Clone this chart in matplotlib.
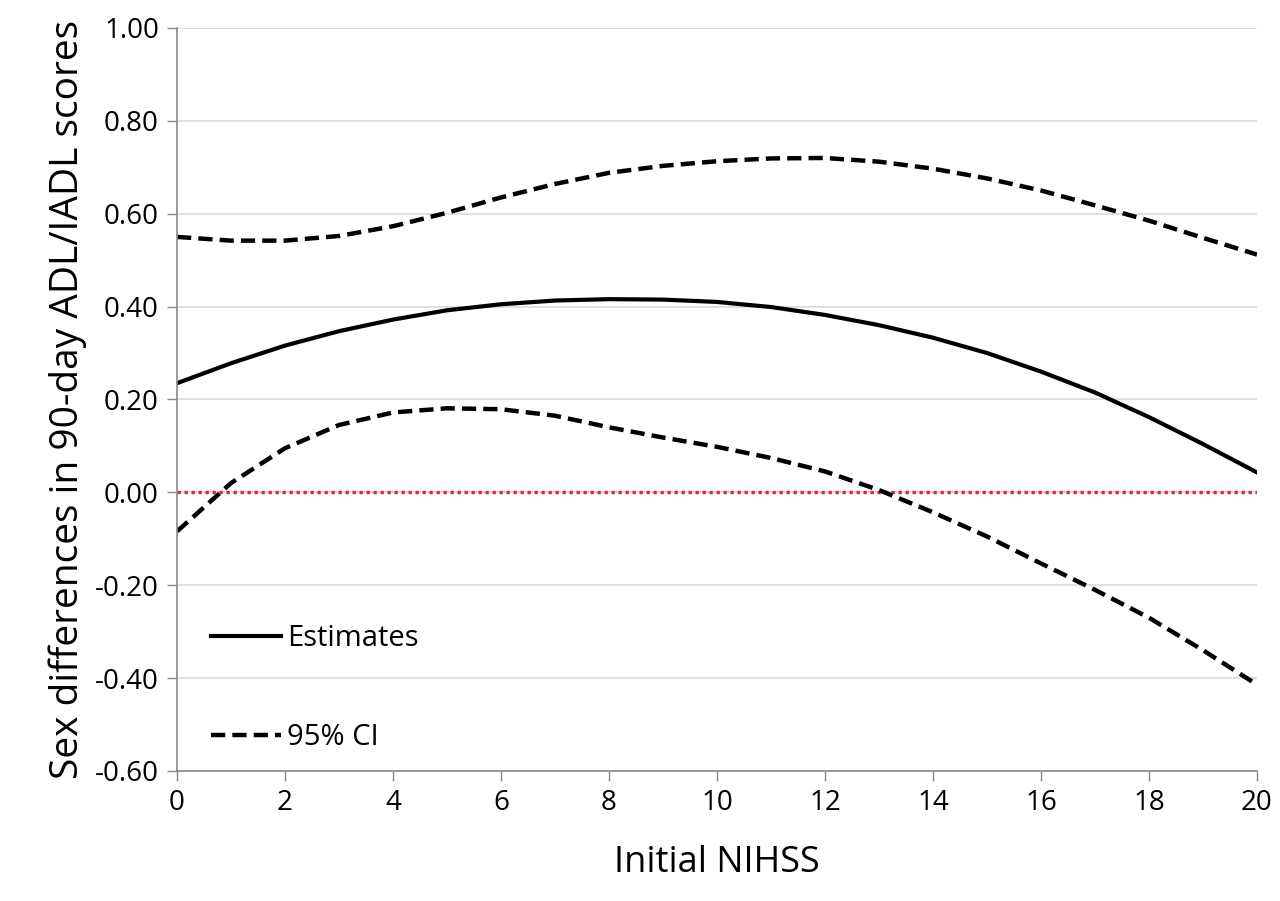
import matplotlib
matplotlib.use('Agg')
from matplotlib import pyplot as plt

nihss = list(range(0, 21))
estimates = [0.235, 0.278, 0.316, 0.347, 0.372, 0.392, 0.405, 0.413, 0.416, 0.415,
             0.410, 0.399, 0.382, 0.360, 0.333, 0.300, 0.260, 0.215, 0.162, 0.104, 0.043]
ci_upper = [0.550, 0.542, 0.542, 0.552, 0.573, 0.602, 0.635, 0.664, 0.688, 0.703,
            0.713, 0.719, 0.720, 0.712, 0.697, 0.676, 0.650, 0.618, 0.585, 0.548, 0.512]
ci_lower = [-0.084, 0.020, 0.095, 0.145, 0.172, 0.181, 0.179, 0.165, 0.140, 0.118,
            0.098, 0.074, 0.045, 0.005, -0.043, -0.095, -0.153, -0.210, -0.270, -0.340, -0.414]
x_ticks = list(range(0, 21, 2))
y_ticks = [-0.6, -0.4, -0.2, 0.0, 0.2, 0.4, 0.6, 0.8, 1.0]

plt.rc('font', family=['Open Sans', 'DejaVu Sans'])

fig = plt.figure(figsize=(12.8, 9.01), dpi=100)
ax = fig.add_axes([0.1383, 0.1443, 0.8437, 0.8247])

ax.plot(nihss, estimates, color='black', lw=3.0, label='Estimates')
ax.plot(nihss, ci_upper, color='black', lw=3.2, dashes=(3.2, 1.6), label='95% CI')
ax.plot(nihss, ci_lower, color='black', lw=3.2, dashes=(3.2, 1.6))
ax.axhline(0, color='#d8283f', lw=2.4, dashes=(1.0, 1.1), zorder=1)

ax.set_xlim(0, 20)
ax.set_ylim(-0.6, 1.0)
ax.set_xticks(x_ticks)
ax.set_yticks(y_ticks)
ax.set_yticklabels(['%.2f' % v for v in y_ticks])
ax.tick_params(labelsize=20, length=7, width=1, color='#888888', pad=6)

ax.grid(axis='y', color='#d9d9d9', lw=1.2)
ax.set_axisbelow(True)
for side in ['top', 'right']:
    ax.spines[side].set_visible(False)
for side in ['left', 'bottom']:
    ax.spines[side].set_color('#888888')
    ax.spines[side].set_linewidth(1.2)

ax.set_xlabel('Initial NIHSS', fontsize=26, labelpad=20)
ax.set_ylabel('Sex differences in 90-day ADL/IADL scores', fontsize=28, labelpad=6)

ax.legend(loc='lower left', bbox_to_anchor=(0.007, -0.01), frameon=False, fontsize=21,
          handlelength=2.4, handletextpad=0.2, labelspacing=2.4)

fig.savefig('out.png', dpi=100, facecolor='white')
